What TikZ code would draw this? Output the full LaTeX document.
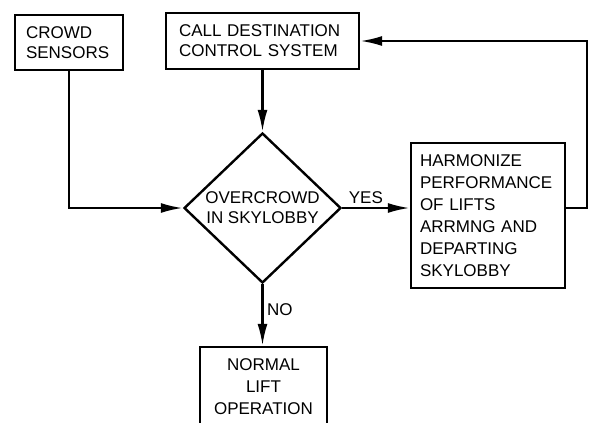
\documentclass[tikz,border=0pt]{standalone}
\usepackage{fontspec}
\setmainfont{Liberation Sans}
\usetikzlibrary{arrows.meta}
\usetikzlibrary{shapes.geometric}
\tikzset{box/.style = {draw, line width=2.4pt, align=left, inner ysep=0pt},
         flow/.style = {line width=2.4pt, -{Latex[length=22pt, width=10pt]}}}

\begin{document}
\begin{tikzpicture}[x=1pt, y=-1pt, font=\fontsize{17}{20}\selectfont]
    \useasboundingbox (0, 0) rectangle (589, 423);
    \clip (0, 0) rectangle (589, 423);

    \node [box, inner xsep=11pt, text width=86pt, minimum height=55pt] (crowd) at (69, 42.5) {CROWD\\SENSORS};
    \node [box, inner xsep=13pt, text width=167pt, minimum height=56pt] (call) at (262.5, 41) {CALL DESTINATION\\CONTROL SYSTEM};
    \node [box, diamond, align=center, inner sep=0pt, minimum width=157pt, minimum height=150pt] (over) at (262.5, 208) {OVERCROWD\\IN SKYLOBBY};
    \node [box, inner xsep=9pt, text width=136pt, minimum height=145pt, font=\fontsize{17}{22}\selectfont] (harm) at (488, 215.5) {HARMONIZE\\PERFORMANCE\\OF LIFTS\\ARRMNG AND\\DEPARTING\\SKYLOBBY};
    \node [box, align=center, minimum width=127pt, minimum height=79pt, font=\fontsize{17}{22}\selectfont] (normal) at (263.5, 386.5) {NORMAL\\LIFT\\OPERATION};

    \coordinate (back) at (587, 41);

    \draw [flow] (call) -- (over);
    \draw [flow] (crowd) |- (over);
    \draw [flow] (over) -- node [above, pos=0.35] {YES} (over.east -| harm.west);
    \draw [flow] (harm.east |- over.east) -| (back) -- (call);
    \draw [flow] (over) -- node [right, pos=0.42] {NO} (over.south |- normal.north);
\end{tikzpicture}
\end{document}
